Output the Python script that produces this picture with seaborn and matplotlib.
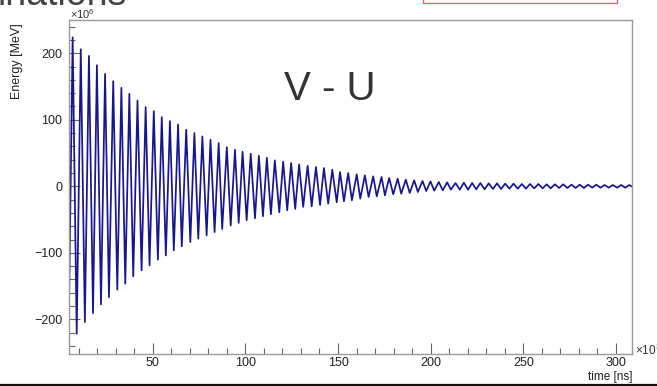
import matplotlib
matplotlib.use("Agg")
import matplotlib.pyplot as plt
from matplotlib.patches import Rectangle
from matplotlib.lines import Line2D
from matplotlib.ticker import MultipleLocator
import numpy as np
import pandas as pd
import seaborn as sns

# Extremes of the V - U oscillation: times in ns (x10^3 scale), energies in MeV (x10^6)
peak_time = [6.8, 11.2, 15.6, 19.9, 24.3, 28.7, 33.1, 37.4, 41.8, 46.2,
             50.6, 54.9, 59.3, 63.7, 68.1, 72.5, 76.8, 81.2, 85.6, 90.0,
             94.4, 98.5, 102.9, 107.3, 111.6, 115.9, 120.4, 124.7, 129.0, 133.6,
             138.1, 142.4, 146.9, 151.1, 155.5, 160.1, 164.5, 169.0, 173.5, 177.6,
             182.2, 186.6, 191.1, 195.6, 199.9, 204.4, 208.9, 213.4, 217.9, 222.4,
             226.8, 231.3, 235.8, 240.2, 244.7, 249.2, 253.6, 258.1, 262.6, 267.0,
             271.5, 276.0, 280.4, 284.9, 289.4, 293.8, 298.3, 302.8, 307.2]
peak_energy = [224, 206, 196, 182, 169, 158, 148, 139, 129, 119,
               113, 104, 98, 93, 85, 80, 75, 70, 65, 59,
               55, 52, 49, 46, 43, 39, 37, 35, 33, 31,
               29, 27.5, 25, 21.5, 20, 18, 16.5, 15, 14, 12.5,
               11.5, 10, 9, 8, 7.5, 6.5, 6, 5, 5.5, 5,
               5, 4.5, 4.5, 4, 4, 3.5, 3.5, 3.5, 3, 3,
               3, 2.5, 2.5, 2.5, 2.5, 2, 2, 2, 2]

trough_time = [4.6, 9.0, 13.4, 17.8, 22.1, 26.4, 30.9, 35.2, 39.5, 44.0,
               48.3, 52.8, 57.1, 61.4, 65.7, 70.3, 74.6, 79.1, 83.4, 87.5,
               92.1, 96.4, 100.7, 105.2, 109.5, 113.8, 118.3, 122.6, 126.9, 131.2,
               135.8, 140.3, 144.7, 149.3, 153.2, 157.5, 162.0, 166.5, 170.9, 175.3,
               179.8, 184.1, 188.7, 193.1, 197.6, 201.9, 206.5, 210.9, 215.7, 220.2,
               224.6, 229.1, 233.6, 238.0, 242.5, 247.0, 251.4, 255.9, 260.4, 264.8,
               269.3, 273.8, 278.2, 282.7, 287.2, 291.6, 296.1, 300.6, 305.0, 309.5]
trough_energy = [-232, -221.5, -204, -190.5, -177.4, -166.5, -155.3, -146.3, -135.3, -126.3,
                 -118.8, -110.2, -103.8, -96.2, -90.2, -83.8, -78.6, -73.7, -68.7, -64,
                 -59, -55, -51, -48, -45, -42, -39, -36, -34, -31,
                 -30, -28, -26, -24, -22.5, -21, -18.5, -16, -15, -13.5,
                 -12, -11, -10, -8.5, -7, -6.5, -6, -5, -5, -5,
                 -4.5, -4.5, -4, -4, -3.5, -3.5, -3.5, -3, -3, -3,
                 -2.5, -2.5, -2.5, -2.5, -2, -2, -2, -2, -2, -2]

x_ticks = [50, 100, 150, 200, 250, 300]
y_ticks = [-200, -100, 0, 100, 200]

df = pd.DataFrame({
    "time": peak_time + trough_time,
    "energy": peak_energy + trough_energy,
}).sort_values("time")

sns.set_theme(style="white")
plt.rcParams["font.family"] = ["Liberation Sans", "DejaVu Sans"]
plt.rcParams["mathtext.fontset"] = "custom"
plt.rcParams["mathtext.rm"] = "Liberation Sans"
plt.rcParams["mathtext.it"] = "Liberation Sans:italic"

W, H = 657, 386
fig = plt.figure(figsize=(W / 100, H / 100), dpi=100)
ax = fig.add_axes([69.3 / W, 1 - 354 / H, (632.3 - 69.3) / W, (354 - 20) / H])

sns.lineplot(data=df, x="time", y="energy", ax=ax, estimator=None, sort=False,
             color="#16168e", linewidth=1.25)

ax.set_xlim(5.0, 308.8)
ax.set_ylim(-252, 250)
ax.set_xticks(x_ticks)
ax.set_yticks(y_ticks)
ax.xaxis.set_minor_locator(MultipleLocator(10))
ax.yaxis.set_minor_locator(MultipleLocator(20))
ax.set_xticklabels([str(v) for v in x_ticks])
ax.set_yticklabels([("\u2212" + str(-v)) if v < 0 else str(v) for v in y_ticks])
ax.tick_params(which="both", direction="in", left=True, bottom=True,
               right=False, top=False, color="#666666", width=0.8,
               labelsize=9, labelcolor="#222222")
ax.tick_params(which="major", length=8)
ax.tick_params(which="minor", length=4)
ax.tick_params(axis="x", pad=2)
ax.tick_params(axis="y", pad=5)
for s in ax.spines.values():
    s.set_color("#9a9a9a")
    s.set_linewidth(1.0)
ax.set_xlabel("")
ax.set_ylabel("")

# axis titles and exponent markers
fig.text(17 / W, 1 - 23 / H, "Energy [MeV]", rotation=90, ha="center", va="top",
         fontsize=9, color="#222222")
fig.text(632 / W, 1 - 377 / H, "time [ns]", ha="right", va="center",
         fontsize=8.5, color="#222222")
fig.text(70 / W, 1 - 19 / H, r"$\times\mathregular{10}^{\mathregular{6}}$",
         ha="left", va="baseline", fontsize=8, color="#333333")
fig.text(635 / W, 1 - 355 / H, r"$\times\mathregular{10}^{\mathregular{3}}$",
         ha="left", va="baseline", fontsize=8.5, color="#333333")

# panel label and slide heading
fig.text(330 / W, 1 - 89 / H, "V - U", ha="center", va="center",
         fontsize=29, color="#333333")
fig.text(-2 / W, 1 - 5 / H, "inations", ha="left", va="baseline",
         fontsize=27, color="#444444")

# slide decorations: red box edge at top right and dark rule at the bottom
fig.patches.append(Rectangle((422.7 / W, 1 - 3.3 / H), (616.7 - 422.7) / W, 20 / H,
                             transform=fig.transFigure, fill=False,
                             edgecolor="#d46a6a", linewidth=1.0))
fig.lines.append(Line2D([0, 1], [1 - 384.8 / H, 1 - 384.8 / H],
                        transform=fig.transFigure, color="#111111", linewidth=1.6))

fig.savefig("out.png", dpi=100)
